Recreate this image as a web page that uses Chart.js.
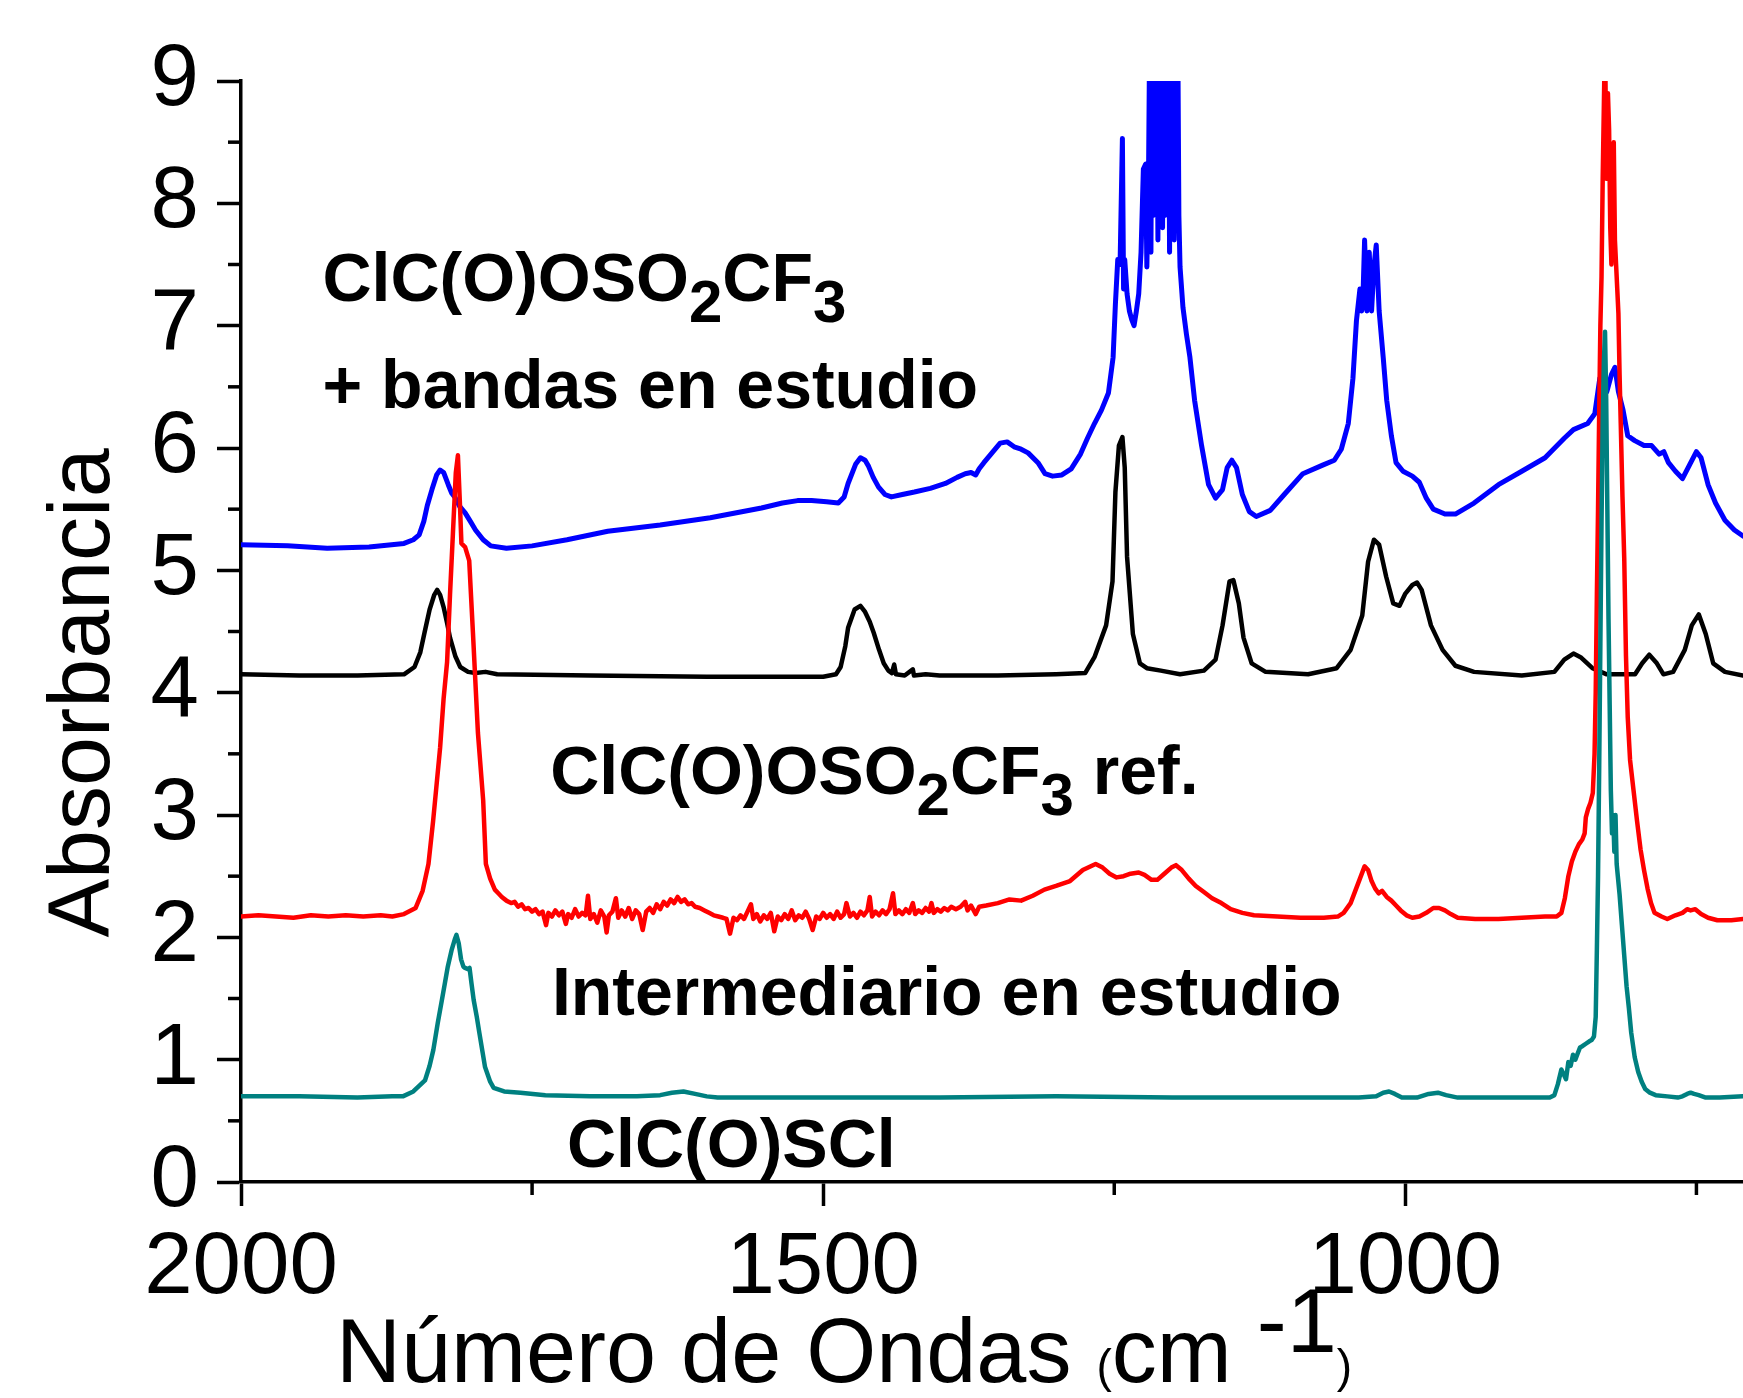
<!DOCTYPE html>
<html>

<head>
  <meta charset="utf-8">
  <title>Espectro IR - Absorbancia</title>
  <style>
    html,
    body {
      margin: 0;
      padding: 0;
      background: #ffffff;
    }

    .chart-container {
      position: relative;
      width: 1743px;
      height: 1398px;
    }
  </style>
</head>

<body>
  <div class="chart-container">
    <canvas id="myChart" width="1743" height="1398"></canvas>
  </div>

  <script src="https://cdn.jsdelivr.net/npm/chart.js"></script>
  <script>

    // data: [numero de ondas (cm-1), absorbancia]

    // ClC(O)OSO2CF3 + bandas en estudio
    const blueSpec = [
      [2000, 5.21], [1960, 5.2], [1926, 5.18], [1890, 5.19], [1860, 5.22], [1852, 5.25], [1847, 5.29],
      [1843, 5.4], [1840, 5.53], [1836, 5.66], [1832, 5.78], [1829, 5.82], [1826, 5.8], [1822, 5.7],
      [1819, 5.63], [1816.5, 5.6], [1812, 5.52], [1807.5, 5.47], [1803, 5.4], [1798.6, 5.33], [1792, 5.25],
      [1785.5, 5.2], [1772, 5.18], [1750, 5.2], [1720, 5.25], [1685, 5.32], [1640, 5.37], [1597, 5.43],
      [1553, 5.51], [1535, 5.55], [1522, 5.57], [1510, 5.57], [1497, 5.56], [1487, 5.55], [1482, 5.6],
      [1478.6, 5.71], [1472, 5.87], [1468, 5.92], [1464, 5.9], [1461, 5.85], [1457, 5.76], [1452.4, 5.68],
      [1447, 5.62], [1441.4, 5.6], [1432, 5.62], [1421.7, 5.64], [1408, 5.67], [1395, 5.71], [1385, 5.76],
      [1378, 5.79], [1373, 5.8], [1369, 5.78], [1366, 5.83], [1362, 5.88], [1355, 5.96], [1348, 6.04],
      [1342, 6.05], [1336, 6.01], [1330, 5.99], [1324, 5.96], [1315.5, 5.88], [1309.5, 5.79], [1303, 5.77],
      [1295, 5.78], [1287, 5.83], [1279, 5.95], [1273, 6.08], [1267, 6.2], [1261, 6.31], [1255, 6.45],
      [1251, 6.74], [1249, 7.18], [1247, 7.54], [1245, 7.5], [1243, 8.53], [1242, 7.3], [1241, 7.54],
      [1239, 7.26], [1237, 7.12], [1235, 7.05], [1233, 7.0], [1231, 7.12], [1229, 7.26], [1227, 7.6],
      [1225, 8.28], [1223, 8.32], [1222, 7.48], [1220.5, 8.3], [1219.5, 9.5], [1218.5, 7.6], [1217.5, 9.5],
      [1216.5, 7.9], [1215.5, 9.5], [1214.5, 8.1], [1213.5, 9.5], [1212.5, 7.7], [1211.5, 9.5], [1210.5, 8.3],
      [1209.5, 9.5], [1208.5, 7.8], [1207.5, 9.5], [1206.5, 7.9], [1205.5, 9.5], [1204.5, 8.0], [1203.5, 9.5],
      [1202.5, 7.6], [1201.5, 9.5], [1200.5, 8.2], [1199.5, 9.5], [1198.5, 7.7], [1197.5, 9.5], [1196.5, 8.1],
      [1195.5, 9.5], [1194.5, 7.9], [1193.5, 7.48], [1191, 7.15], [1188, 6.93], [1185, 6.74], [1181, 6.39],
      [1175, 6.02], [1169, 5.7], [1163, 5.59], [1157, 5.66], [1153, 5.84], [1149, 5.9], [1145, 5.84],
      [1140, 5.62], [1134, 5.48], [1128, 5.44], [1116, 5.49], [1104, 5.62], [1088, 5.79], [1071, 5.86],
      [1061, 5.9], [1055, 5.99], [1049, 6.2], [1045, 6.57], [1042, 7.04], [1039, 7.3], [1037.5, 7.12],
      [1036.5, 7.2], [1035, 7.7], [1033, 7.12], [1031, 7.6], [1029, 7.12], [1027, 7.48], [1025, 7.66],
      [1022.5, 7.12], [1019, 6.74], [1016, 6.39], [1012, 6.1], [1008, 5.88], [1002, 5.81], [994, 5.77],
      [988, 5.72], [982, 5.59], [976, 5.5], [966, 5.46], [957, 5.46], [941, 5.55], [920, 5.7], [900, 5.81],
      [880, 5.92], [863.5, 6.08], [855.6, 6.15], [843.4, 6.2], [837.3, 6.28], [833, 6.57], [830.3, 6.6],
      [827, 6.46], [823, 6.6], [820, 6.66], [817, 6.46], [813, 6.31], [809, 6.1], [803, 6.06], [795, 6.02],
      [788.5, 6.02], [782, 5.95], [778, 5.97], [774, 5.88], [768, 5.81], [762, 5.75], [756, 5.86], [750, 5.97],
      [746, 5.92], [740, 5.7], [733.6, 5.55], [725.5, 5.41], [717.4, 5.33], [710, 5.28]
    ];

    // ClC(O)OSO2CF3 ref.
    const blackSpec = [
      [2000, 4.15], [1950, 4.14], [1900, 4.14], [1860, 4.15], [1851, 4.21], [1846, 4.33], [1842.4, 4.49],
      [1838, 4.68], [1834, 4.8], [1831.5, 4.84], [1829, 4.8], [1826, 4.7], [1823, 4.57], [1820.5, 4.45],
      [1816, 4.3], [1811.7, 4.21], [1805, 4.17], [1798.6, 4.16], [1790, 4.17], [1780, 4.15], [1700, 4.14],
      [1600, 4.13], [1500, 4.13], [1489, 4.15], [1485, 4.21], [1481, 4.38], [1478.6, 4.53], [1473, 4.68],
      [1468, 4.71], [1464, 4.66], [1460, 4.58], [1456.6, 4.49], [1452, 4.35], [1448, 4.24], [1444, 4.18],
      [1441, 4.16], [1439, 4.23], [1437.5, 4.15], [1430, 4.14], [1423, 4.19], [1422, 4.14], [1412, 4.15],
      [1400, 4.14], [1350, 4.14], [1300, 4.15], [1275, 4.16], [1267, 4.29], [1257, 4.55], [1251.5, 4.91],
      [1249, 5.64], [1246, 6.02], [1243, 6.09], [1241, 5.84], [1239, 5.11], [1234, 4.48], [1228, 4.24],
      [1222, 4.2], [1210, 4.18], [1193.5, 4.15], [1173, 4.18], [1163, 4.27], [1157, 4.55], [1151, 4.91],
      [1147.7, 4.92], [1143, 4.73], [1139, 4.45], [1132, 4.24], [1120, 4.17], [1083.5, 4.15], [1059, 4.2],
      [1047, 4.35], [1037, 4.63], [1032, 5.07], [1027, 5.25], [1022.5, 5.21], [1016.5, 4.95], [1010.4, 4.73],
      [1005, 4.71], [1000, 4.81], [994, 4.88], [990, 4.9], [986, 4.84], [978, 4.55], [968, 4.35], [957, 4.22],
      [941, 4.17], [900, 4.14], [872, 4.17], [863.5, 4.27], [855.6, 4.32], [849.5, 4.29], [839.3, 4.2],
      [827, 4.15], [802.7, 4.15], [796.6, 4.24], [790.5, 4.31], [784, 4.24], [778.3, 4.15], [770, 4.17],
      [760, 4.35], [754, 4.55], [748, 4.64], [742, 4.48], [735.6, 4.24], [725.5, 4.17], [710, 4.14]
    ];

    // Intermediario en estudio
    const redSpec = [
      [2000, 2.17], [1985, 2.18], [1970, 2.17], [1955, 2.16], [1940, 2.18], [1925, 2.17], [1910, 2.18],
      [1895, 2.17], [1880, 2.18], [1870, 2.17], [1860, 2.19], [1850, 2.24], [1844, 2.38], [1839, 2.6],
      [1835, 2.95], [1833, 3.15], [1829, 3.55], [1826, 3.95], [1823, 4.25], [1820.5, 4.8], [1818, 5.3],
      [1815.5, 5.8], [1813.7, 5.94], [1812, 5.55], [1810.7, 5.22], [1807.5, 5.19], [1804, 5.08],
      [1800.8, 4.49], [1796.5, 3.67], [1792, 3.12], [1789.7, 2.6], [1786, 2.48], [1782, 2.39], [1779, 2.36],
      [1776, 2.33], [1772, 2.3], [1768, 2.28], [1765, 2.29], [1762, 2.25], [1759, 2.27], [1756, 2.23],
      [1753, 2.24], [1750, 2.21], [1747, 2.23], [1744, 2.19], [1741, 2.21], [1738, 2.1], [1736, 2.2],
      [1733, 2.17], [1730, 2.22], [1727, 2.18], [1724, 2.21], [1721, 2.11], [1719, 2.19], [1716, 2.16],
      [1713, 2.23], [1710, 2.17], [1707, 2.2], [1704, 2.18], [1702, 2.34], [1700, 2.15], [1697, 2.19],
      [1694, 2.12], [1691, 2.22], [1688, 2.17], [1686, 2.04], [1684, 2.18], [1681, 2.21], [1678, 2.32],
      [1676, 2.16], [1673, 2.22], [1670, 2.17], [1667, 2.24], [1664, 2.15], [1661, 2.22], [1658, 2.19],
      [1655, 2.06], [1652, 2.21], [1649, 2.24], [1646, 2.2], [1643, 2.27], [1640, 2.23], [1637, 2.29],
      [1634, 2.26], [1631, 2.31], [1628, 2.28], [1625, 2.33], [1622, 2.29], [1619, 2.31], [1616, 2.27],
      [1613, 2.28], [1610, 2.25], [1606, 2.24], [1602, 2.22], [1598, 2.2], [1594, 2.18], [1590, 2.17],
      [1586, 2.16], [1583, 2.15], [1580, 2.03], [1577, 2.16], [1574, 2.14], [1571, 2.18], [1568, 2.15],
      [1565, 2.21], [1562, 2.27], [1560, 2.15], [1557, 2.19], [1554, 2.13], [1551, 2.18], [1548, 2.15],
      [1545, 2.2], [1542, 2.05], [1539, 2.17], [1536, 2.14], [1533, 2.19], [1530, 2.15], [1527, 2.22],
      [1524, 2.14], [1521, 2.18], [1518, 2.16], [1515, 2.21], [1512, 2.15], [1509, 2.06], [1506, 2.17],
      [1503, 2.15], [1500, 2.2], [1497, 2.16], [1494, 2.19], [1491, 2.15], [1488, 2.21], [1485, 2.16],
      [1482, 2.19], [1480, 2.28], [1477, 2.17], [1474, 2.2], [1471, 2.16], [1468, 2.21], [1465, 2.18],
      [1462, 2.22], [1460, 2.33], [1458, 2.17], [1455, 2.21], [1452, 2.18], [1449, 2.22], [1446, 2.19],
      [1443, 2.23], [1440, 2.36], [1438, 2.19], [1435, 2.22], [1432, 2.19], [1429, 2.23], [1426, 2.2],
      [1423, 2.28], [1421, 2.19], [1418, 2.22], [1415, 2.2], [1412, 2.24], [1409, 2.21], [1407, 2.28],
      [1405, 2.2], [1402, 2.23], [1399, 2.21], [1396, 2.24], [1393, 2.22], [1390, 2.25], [1386, 2.23],
      [1382, 2.25], [1378, 2.29], [1376, 2.22], [1373, 2.26], [1369, 2.19], [1366, 2.25], [1360, 2.26],
      [1350, 2.28], [1340, 2.31], [1330, 2.3], [1320, 2.34], [1310, 2.39], [1300, 2.42], [1288, 2.46],
      [1277, 2.55], [1266, 2.6], [1260, 2.57], [1254, 2.52], [1248, 2.49], [1242, 2.5], [1236, 2.52],
      [1229, 2.53], [1224, 2.51], [1218, 2.47], [1213, 2.47], [1207, 2.52], [1201, 2.57], [1197, 2.59],
      [1192, 2.55], [1186, 2.48], [1180, 2.42], [1173, 2.37], [1166, 2.32], [1158, 2.28], [1150, 2.23],
      [1140, 2.2], [1130, 2.18], [1110, 2.17], [1090, 2.16], [1070, 2.16], [1058, 2.17], [1053, 2.2],
      [1047, 2.28], [1043, 2.38], [1039, 2.48], [1035, 2.58], [1032, 2.55], [1029, 2.46], [1026, 2.4],
      [1023, 2.36], [1020, 2.38], [1016, 2.33], [1012, 2.3], [1008, 2.26], [1004, 2.22], [999, 2.18],
      [994, 2.16], [988, 2.17], [982, 2.2], [976, 2.24], [971, 2.24], [966, 2.22], [961, 2.19], [955, 2.16],
      [940, 2.15], [920, 2.15], [900, 2.16], [880, 2.17], [870, 2.17], [866, 2.2], [863, 2.32], [860, 2.5],
      [857, 2.62], [854, 2.7], [851, 2.76], [848, 2.8], [846, 2.85], [845, 2.98], [843, 3.05], [841, 3.1],
      [839, 3.18], [837.5, 3.5], [836.5, 4.0], [835.5, 4.8], [834.5, 5.5], [833.5, 6.3], [832.5, 7.0],
      [831.5, 7.4], [830.5, 8.2], [829.5, 8.8], [828.5, 9.4], [827.5, 8.4], [827, 8.2], [826, 8.9],
      [825, 8.6], [824, 7.8], [823, 7.5], [822, 8.2], [821, 8.5], [820, 7.7], [819, 7.5], [818, 7.3],
      [817, 7.1], [816, 6.6], [815, 6.2], [813.5, 5.6], [812, 5.1], [810.5, 4.3], [809, 3.8], [807, 3.45],
      [804, 3.2], [801, 2.95], [798, 2.72], [795, 2.55], [792, 2.4], [789, 2.28], [786, 2.2], [780, 2.17],
      [775, 2.15], [768, 2.18], [762, 2.2], [758, 2.23], [755, 2.22], [751, 2.23], [746, 2.19], [740, 2.16],
      [732, 2.14], [720, 2.14], [710, 2.15]
    ];

    // ClC(O)SCl
    const tealSpec = [
      [2000, 0.7], [1950, 0.7], [1900, 0.69], [1870, 0.7], [1861, 0.7], [1852, 0.74], [1842, 0.83],
      [1838, 0.95], [1834.8, 1.08], [1831, 1.3], [1827.4, 1.49], [1825, 1.62], [1822.4, 1.76], [1819, 1.9],
      [1816.5, 1.98], [1815, 2.02], [1813, 1.95], [1811, 1.82], [1809, 1.76], [1807.6, 1.75], [1805, 1.74],
      [1803.7, 1.75], [1802, 1.62], [1800.2, 1.49], [1797.5, 1.35], [1795.3, 1.22], [1792.5, 1.06],
      [1790.4, 0.94], [1786, 0.82], [1783, 0.77], [1774, 0.74], [1760, 0.73], [1738.6, 0.71], [1700, 0.7],
      [1660, 0.7], [1640, 0.71], [1630, 0.73], [1620, 0.74], [1610, 0.72], [1600, 0.7], [1590.6, 0.69],
      [1500, 0.69], [1400, 0.69], [1300, 0.7], [1200, 0.69], [1100, 0.69], [1040, 0.69], [1025, 0.7],
      [1019, 0.73], [1014, 0.74], [1009, 0.72], [1003, 0.69], [990, 0.69], [980, 0.72], [972, 0.73],
      [965, 0.71], [955, 0.69], [900, 0.69], [876, 0.69], [872, 0.71], [869, 0.8], [866, 0.92], [864, 0.88],
      [862, 0.84], [860, 0.98], [858, 0.95], [856, 1.04], [854, 1.0], [852, 1.05], [850, 1.1], [848, 1.11],
      [845, 1.13], [842, 1.15], [840, 1.16], [838, 1.19], [836.5, 1.35], [835.5, 1.9], [834.5, 2.5],
      [833.5, 3.4], [832.5, 4.4], [831.5, 5.4], [830.5, 6.2], [829.5, 6.7], [828.5, 6.95], [827.5, 6.4],
      [826.5, 5.5], [825.5, 4.6], [824.5, 3.9], [823.5, 3.2], [822.5, 2.85], [821.5, 3.0], [820.5, 2.7],
      [819.5, 3.0], [818.5, 2.6], [817.5, 2.5], [816, 2.35], [814, 2.1], [812, 1.85], [810, 1.6], [808, 1.42],
      [806, 1.22], [803, 1.02], [800, 0.9], [797, 0.82], [794, 0.76], [790, 0.73], [785, 0.71], [775, 0.7],
      [766, 0.69], [762, 0.7], [758, 0.72], [755, 0.73], [752, 0.72], [748, 0.71], [742, 0.69], [730, 0.69],
      [710, 0.7]
    ];

    // ejes y textos
    const xTickValues = [2000, 1500, 1000];
    const xMinorTicks = [1750, 1250, 750];
    const yTickValues = [0, 1, 2, 3, 4, 5, 6, 7, 8, 9];
    const yMinorTicks = [0.5, 1.5, 2.5, 3.5, 4.5, 5.5, 6.5, 7.5, 8.5];

    // "_" marca un subindice
    const seriesLabels = [
      'ClC(O)OSO_2CF_3',
      '+ bandas en estudio',
      'ClC(O)OSO_2CF_3 ref.',
      'Intermediario en estudio',
      'ClC(O)SCl'
    ];
    // esquina izquierda / linea base de cada texto, en unidades del grafico
    const labelAnchors = [[1930, 7.2], [1930, 6.33], [1734.5, 3.17], [1733, 1.365], [1720, 0.12]];

    const yTitle = 'Absorbancia';
    const xTitleParts = ['Número de Ondas ', '(', 'cm', ' -1', ')'];

    // estilos
    const FONT = '"Liberation Sans", Arial, Helvetica, sans-serif';
    const colors = { blue: '#0000ff', black: '#000000', red: '#ff0000', teal: '#008080' };

    const toPoints = (spec) => spec.map(([x, y]) => ({ x: x, y: y }));

    function lineSet(label, spec, color, width) {
      return {
        label: label,
        data: toPoints(spec),
        borderColor: color,
        backgroundColor: color,
        borderWidth: width,
        borderJoinStyle: 'round',
        borderCapStyle: 'round',
        pointRadius: 0,
        tension: 0,
        fill: false,
        clip: 0
      };
    }

    // plugin: ticks menores, titulos y etiquetas
    const textPlugin = {
      id: 'textPlugin',
      afterDraw(chart) {
        const ctx = chart.ctx;
        const xs = chart.scales.x;
        const ys = chart.scales.y;
        ctx.save();

        ctx.strokeStyle = '#000';
        ctx.lineWidth = 3.5;
        xMinorTicks.forEach((v) => {
          const px = xs.getPixelForValue(v);
          ctx.beginPath();
          ctx.moveTo(px, xs.top);
          ctx.lineTo(px, xs.top + 13);
          ctx.stroke();
        });
        yMinorTicks.forEach((v) => {
          const py = ys.getPixelForValue(v);
          ctx.beginPath();
          ctx.moveTo(ys.right, py);
          ctx.lineTo(ys.right - 13, py);
          ctx.stroke();
        });

        ctx.fillStyle = '#000';
        ctx.textAlign = 'left';
        ctx.textBaseline = 'alphabetic';

        seriesLabels.forEach((s, i) => {
          let px = xs.getPixelForValue(labelAnchors[i][0]);
          const py = ys.getPixelForValue(labelAnchors[i][1]);
          s.split(/(_\d)/).filter(Boolean).forEach((part) => {
            const sub = part[0] === '_';
            const txt = sub ? part.slice(1) : part;
            ctx.font = 'bold ' + (sub ? 60 : 68) + 'px ' + FONT;
            ctx.fillText(txt, px, py + (sub ? 21 : 0));
            px += ctx.measureText(txt).width;
          });
        });

        // titulo eje y
        ctx.save();
        ctx.translate(109, 693);
        ctx.rotate(-Math.PI / 2);
        ctx.font = '88px ' + FONT;
        ctx.textAlign = 'center';
        ctx.fillText(yTitle, 0, 0);
        ctx.restore();

        // titulo eje x: Número de Ondas (cm -1)
        const sizes = [90, 46, 90, 90, 46];
        const raise = [0, 0, 0, -30, 0];
        let tx = 336;
        xTitleParts.forEach((p, i) => {
          ctx.font = sizes[i] + 'px ' + FONT;
          ctx.fillText(p, tx, 1382 + raise[i]);
          tx += ctx.measureText(p).width;
        });

        ctx.restore();
      }
    };

    const data = {
      datasets: [
        lineSet('ClC(O)SCl', tealSpec, colors.teal, 4.5),
        lineSet('Intermediario en estudio', redSpec, colors.red, 4.5),
        lineSet('ClC(O)OSO2CF3 ref.', blackSpec, colors.black, 4.5),
        lineSet('ClC(O)OSO2CF3 + bandas en estudio', blueSpec, colors.blue, 5)
      ]
    };

    const tickFont = { family: FONT, size: 87 };

    const config = {
      type: 'line',
      data: data,
      options: {
        responsive: false,
        animation: false,
        devicePixelRatio: 1,
        layout: {
          autoPadding: false,
          padding: { top: 81, right: 0, bottom: 0, left: 0 }
        },
        plugins: {
          legend: { display: false },
          tooltip: { enabled: false }
        },
        scales: {
          x: {
            type: 'linear',
            reverse: true,
            min: 710,
            max: 2000,
            afterBuildTicks: (s) => { s.ticks = xTickValues.map((v) => ({ value: v })); },
            afterFit: (s) => { s.height = 216; },
            ticks: {
              color: '#000',
              font: tickFont,
              padding: 11,
              maxRotation: 0,
              autoSkip: false,
              callback: (v) => String(v)
            },
            grid: {
              drawOnChartArea: false,
              drawTicks: true,
              tickLength: 24,
              tickWidth: 3.5,
              tickColor: '#000'
            },
            border: { display: true, color: '#000', width: 3.5 }
          },
          y: {
            type: 'linear',
            min: 0,
            max: 9,
            afterBuildTicks: (s) => { s.ticks = yTickValues.map((v) => ({ value: v })); },
            afterFit: (s) => { s.width = 241; },
            ticks: {
              color: '#000',
              font: tickFont,
              padding: 18,
              autoSkip: false,
              callback: (v) => String(v)
            },
            grid: {
              drawOnChartArea: false,
              drawTicks: true,
              tickLength: 24,
              tickWidth: 3.5,
              tickColor: '#000'
            },
            border: { display: true, color: '#000', width: 3.5 }
          }
        }
      },
      plugins: [textPlugin]
    };

    const ctx = document.getElementById('myChart').getContext('2d');
    const myChart = new Chart(ctx, config);

  </script>
</body>

</html>
